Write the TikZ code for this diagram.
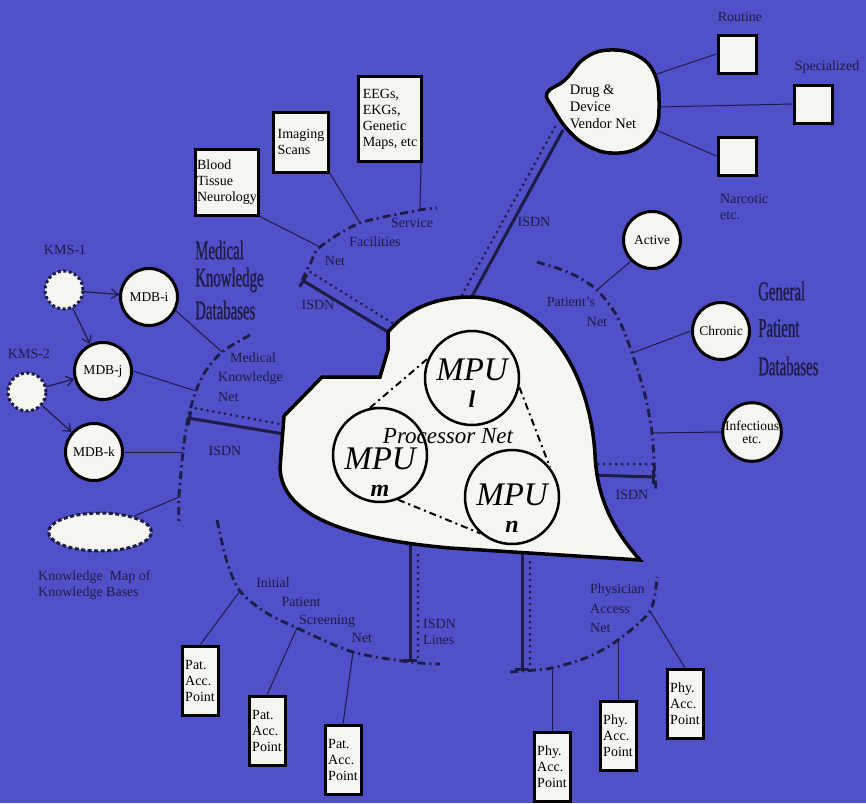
\documentclass[tikz,border=0pt]{standalone}
\usepackage{fontspec}
\setmainfont{Liberation Serif}
\newfontfamily\narrowfont[FakeStretch=0.55, FakeBold=0.8]{Liberation Serif}
\usetikzlibrary{shapes.geometric, arrows.meta}
\definecolor{bgblue}{RGB}{80,80,200}
\definecolor{ink}{RGB}{28,28,70}
\definecolor{paper}{RGB}{246,246,240}

\begin{document}
\begin{tikzpicture}[x=1pt, y=-1pt,
	lbl/.style={text=ink, font=\fontsize{14}{16}\selectfont, inner sep=0pt, align=left},
	bigl/.style={text=ink, font=\narrowfont\fontsize{27}{30}\selectfont, inner sep=0pt, anchor=west},
	pbox/.style={draw=black, line width=3pt, fill=paper, font=\fontsize{14}{16}\selectfont, align=left, inner sep=1.5pt},
	sqbox/.style={draw=black, line width=3pt, fill=paper, minimum size=38pt},
	dbcirc/.style={circle, draw=black, line width=3pt, fill=paper, minimum size=57pt, inner sep=0pt, font=\fontsize{13.5}{15}\selectfont, align=center},
	kmscirc/.style={circle, draw=ink, line width=3pt, dash pattern=on 3pt off 2.5pt, fill=paper, minimum size=38pt},
	mpucirc/.style={circle, draw=black, line width=2.5pt, minimum size=94pt, inner sep=0pt},
	mputxt/.style={align=center, inner sep=0pt, font=\fontsize{33}{30}\selectfont\itshape},
	netline/.style={draw=ink, line width=2.8pt, dash pattern=on 8pt off 4pt on 2pt off 4pt},
	isdn/.style={draw=ink, line width=3pt},
	isdndot/.style={draw=ink, line width=3pt, line cap=round, dash pattern=on 0pt off 6pt},
	wire/.style={draw=ink, line width=1pt},
	arr/.style={draw=ink, line width=1.2pt, -{Straight Barb[length=7pt, width=10pt]}},
	mpulink/.style={draw=black, line width=2pt, dash pattern=on 7pt off 4pt on 2pt off 4pt}]
	\useasboundingbox (0,0) rectangle (866,803);
	\fill[bgblue] (0,0) rectangle (866,803);

	% points on the nets
	\coordinate (sf0) at (302,280);
	\coordinate (sf1) at (320,247);
	\coordinate (sf2) at (360,223);
	\coordinate (sf3) at (420,210);
	\coordinate (sf4) at (437,208);
	\coordinate (mk0) at (250,335);
	\coordinate (mk1) at (222,352);
	\coordinate (mk2) at (196,391);
	\coordinate (mk3) at (188,418);
	\coordinate (mk4) at (183,452);
	\coordinate (mk5) at (179,497);
	\coordinate (mk6) at (179,525);
	\coordinate (pn0) at (537,262);
	\coordinate (pn1) at (597,290);
	\coordinate (pn2) at (632,353);
	\coordinate (pn3) at (652,433);
	\coordinate (pn4) at (655,477);
	\coordinate (pn5) at (656,490);
	\coordinate (ip0) at (217,520);
	\coordinate (ip1) at (240,591);
	\coordinate (ip2) at (297,628);
	\coordinate (ip3) at (353,652);
	\coordinate (ip4) at (410,662);
	\coordinate (ip5) at (440,664);
	\coordinate (pa0) at (510,672);
	\coordinate (pa1) at (522,671);
	\coordinate (pa2) at (552,668);
	\coordinate (pa3) at (618,640);
	\coordinate (pa4) at (650,611);
	\coordinate (pa5) at (657,577);

	% the nets
	\draw[netline] plot[smooth] coordinates {(sf0) (311,262) (sf1) (sf2) (sf3) (sf4)};
	\draw[netline] plot[smooth] coordinates {(mk0) (mk1) (205,372) (mk2) (mk3) (mk4) (mk5) (mk6)};
	\draw[netline] plot[smooth] coordinates {(pn0) (570,273) (pn1) (618,318) (pn2) (645,395) (pn3) (pn4) (pn5)};
	\draw[netline] plot[smooth] coordinates {(ip0) (227,562) (ip1) (265,612) (ip2) (ip3) (ip4) (ip5)};
	\draw[netline] plot[smooth] coordinates {(pa0) (pa1) (pa2) (588,657) (pa3) (pa4) (pa5)};

	% ISDN lines
	\coordinate (hNotch) at (388,332);
	\coordinate (hTop) at (470,300);
	\coordinate (drugSW) at (563,130);
	\draw[isdn] (hTop) -- (drugSW);
	\draw[isdndot] (462,295) -- (555,127);
	\draw[isdn, -{Bar[width=14pt]}] (hNotch) -- (sf0);
	\draw[isdndot] (397,326) -- (307,270);
	\draw[isdn, -{Bar[width=14pt]}] (290,435) -- (mk3);
	\draw[isdndot] (290,426) -- (195,408);
	\draw[isdn, -{Bar[width=14pt]}] (590,475) -- (pn4);
	\draw[isdndot] (598,464) -- (655,464);
	\draw[isdn, -{Bar[width=14pt]}] (410,540) -- (ip4);
	\draw[isdndot] (418,555) -- (418,660);
	\draw[isdn, -{Bar[width=14pt]}] (522,545) -- (pa1);
	\draw[isdndot] (530,562) -- (530,667);

	% processor net
	\draw[line width=3.5pt, fill=paper] (hNotch) -- (388,350) -- (380,377) -- (322,377) -- (284,416) -- (280,468)
		.. controls (282,520) and (360,540) .. (450,548) -- (640,560)
		.. controls (615,532) and (597,500) .. (595,455)
		.. controls (590,370) and (545,300) .. (472,297)
		.. controls (430,297) and (405,312) .. cycle;
	\node[mpucirc] (mpuL) at (472,378) {};
	\node[mpucirc] (mpuM) at (380,455) {};
	\node[mpucirc] (mpuN) at (512,497) {};
	\node[mputxt] (mpuLtxt) at ([yshift=-5pt]mpuL.center) {MPU\\[-3pt]{\fontsize{24}{24}\selectfont\bfseries l}};
	\node[mputxt] (mpuMtxt) at ([yshift=-17pt]mpuM.center) {MPU\\[-3pt]{\fontsize{24}{24}\selectfont\bfseries m}};
	\node[mputxt] (mpuNtxt) at ([yshift=-11pt]mpuN.center) {MPU\\[-3pt]{\fontsize{24}{24}\selectfont\bfseries n}};
	\draw[mpulink] (mpuM.102) -- (mpuL.156);
	\draw[mpulink] (mpuL.349) -- (mpuN.38);
	\draw[mpulink] (mpuM.292) -- (mpuN.229);
	\node[text=black, font=\fontsize{23}{25}\selectfont\itshape, inner sep=0pt] (proc) at (448,436) {Processor Net};

	% drug and device vendor net
	\draw[line width=3.5pt, fill=paper] plot[smooth cycle, tension=0.7] coordinates {(547,93) (565,80) (585,58) (610,50) (638,56) (655,75) (659,105) (655,130) (638,148) (612,153) (588,146) (568,130) (553,108)};
	\node[font=\fontsize{14.5}{17}\selectfont, align=left, inner sep=0pt] (drug) at (603,107) {Drug \&\\Device\\Vendor Net};
	\coordinate (drugE1) at (654,75);
	\coordinate (drugE2) at (659,107);
	\coordinate (drugE3) at (656,130);
	\node[sqbox] (rout) at (737,54) {};
	\node[sqbox] (spec) at (813,104) {};
	\node[sqbox] (narc) at (737,156) {};
	\draw[wire] (drugE1) -- (rout.west);
	\draw[wire] (drugE2) -- (spec.west);
	\draw[wire] (drugE3) -- (narc.west);
	\node[lbl] (routL) at (740,17) {Routine};
	\node[lbl] (specL) at (827,67) {Specialized};
	\node[lbl, anchor=north west] (narcL) at (720,194) {Narcotic\\etc.};
	\node[lbl] (isdnA) at (534,222) {ISDN};

	% service facilities
	\node[pbox, minimum width=62pt, minimum height=66pt] (blood) at (227,182) {Blood\\Tissue\\Neurology};
	\node[pbox, minimum width=55pt, minimum height=60pt] (img) at (301,142) {Imaging\\Scans};
	\node[pbox, minimum width=63pt, minimum height=85pt] (eeg) at (390,119) {EEGs,\\EKGs,\\Genetic\\Maps, etc};
	\draw[wire] (blood.south east) -- (sf1);
	\draw[wire] (img.south east) -- (sf2);
	\draw[wire] ([xshift=-2pt]eeg.south east) -- (sf3);
	\node[lbl] (sfL1) at (412,223) {Service};
	\node[lbl] (sfL2) at (375,242) {Facilities};
	\node[lbl] (sfL3) at (335,261) {Net};
	\node[lbl] (isdnB) at (318,305) {ISDN};

	% medical knowledge
	\node[bigl] (mkdb1) at (195,250) {Medical};
	\node[bigl] (mkdb2) at (195,280) {Knowledge};
	\node[bigl] (mkdb3) at (195,310) {Databases};
	\node[kmscirc] (kms1) at (64,290) {};
	\node[kmscirc] (kms2) at (27,392) {};
	\node[lbl] (kms1L) at (65,250) {KMS-1};
	\node[lbl] (kms2L) at (29,354) {KMS-2};
	\node[dbcirc] (mdbi) at (149,297) {MDB-i};
	\node[dbcirc] (mdbj) at (103,371) {MDB-j};
	\node[dbcirc] (mdbk) at (94,452) {MDB-k};
	\draw[arr] (kms1) -- (mdbi);
	\draw[arr] (kms1) -- (mdbj);
	\draw[arr] (kms2) -- (mdbj);
	\draw[arr] (kms2) -- (mdbk);
	\node[ellipse, draw=ink, line width=3pt, dash pattern=on 4pt off 2.5pt, fill=paper, minimum width=103pt, minimum height=38pt] (kmap) at (100,532) {};
	\draw[wire] (mdbi.-27) -- (mk1);
	\draw[wire] (mdbj.east) -- (mk2);
	\draw[wire] (mdbk.east) -- (mk4);
	\draw[wire] (kmap.25) -- (mk5);
	\node[lbl, anchor=west] (mkL1) at (230,358) {Medical};
	\node[lbl, anchor=west] (mkL2) at (218,378) {Knowledge};
	\node[lbl, anchor=west] (mkL3) at (218,397) {Net};
	\node[lbl] (isdnC) at (225,451) {ISDN};
	\node[lbl, anchor=north west] (kmapL) at (38,570) {Knowledge~ Map of\\Knowledge Bases};

	% general patient databases
	\node[dbcirc] (active) at (652,240) {Active};
	\node[dbcirc] (chron) at (721,331) {Chronic};
	\node[dbcirc] (infec) at (752,432) {Infectious\\[-2pt]etc.};
	\draw[wire] (active.225) -- (pn1);
	\draw[wire] (chron.west) -- (pn2);
	\draw[wire] (infec.west) -- (pn3);
	\node[lbl] (pnL1) at (571,302) {Patient's};
	\node[lbl] (pnL2) at (597,322) {Net};
	\node[lbl] (isdnD) at (632,495) {ISDN};
	\node[bigl] (gpdb1) at (758,291) {General};
	\node[bigl] (gpdb2) at (758,328) {Patient};
	\node[bigl] (gpdb3) at (758,366) {Databases};

	% patient access points
	\node[pbox, minimum width=36pt, minimum height=69pt] (pat1) at (200,681) {Pat.\\Acc.\\Point};
	\node[pbox, minimum width=36pt, minimum height=69pt] (pat2) at (267,731) {Pat.\\Acc.\\Point};
	\node[pbox, minimum width=36pt, minimum height=69pt] (pat3) at (343,760) {Pat.\\Acc.\\Point};
	\draw[wire] (pat1.north) -- (ip1);
	\draw[wire] (pat2.north) -- (ip2);
	\draw[wire] (pat3.north) -- (ip3);
	\node[lbl] (ipL1) at (273,583) {Initial};
	\node[lbl] (ipL2) at (301,602) {Patient};
	\node[lbl] (ipL3) at (327,621) {Screening};
	\node[lbl] (ipL4) at (362,638) {Net};
	\node[lbl, anchor=west] (isdnE) at (423,632) {ISDN\\Lines};

	% physician access points
	\node[pbox, minimum width=36pt, minimum height=69pt] (phy1) at (552,767) {Phy.\\Acc.\\Point};
	\node[pbox, minimum width=36pt, minimum height=69pt] (phy2) at (618,736) {Phy.\\Acc.\\Point};
	\node[pbox, minimum width=36pt, minimum height=69pt] (phy3) at (685,704) {Phy.\\Acc.\\Point};
	\draw[wire] (phy1.north) -- (pa2);
	\draw[wire] (phy2.north) -- (pa3);
	\draw[wire] (phy3.north) -- (pa4);
	\node[lbl, anchor=west] (paL1) at (590,590) {Physician};
	\node[lbl, anchor=west] (paL2) at (590,609) {Access};
	\node[lbl, anchor=west] (paL3) at (590,628) {Net};
\end{tikzpicture}
\end{document}
